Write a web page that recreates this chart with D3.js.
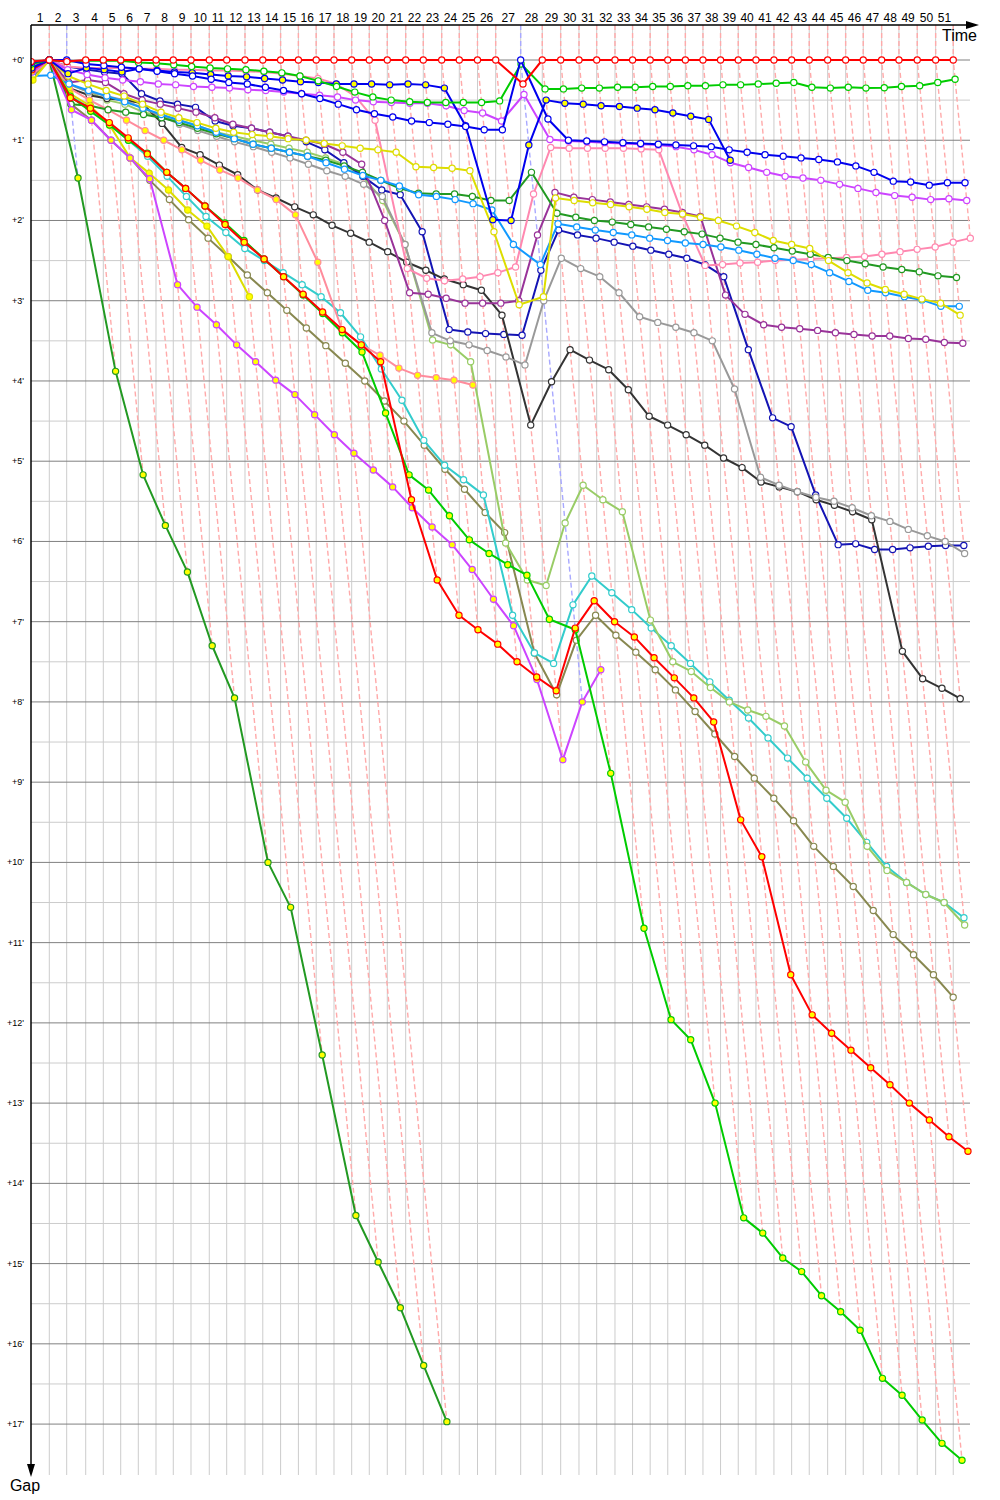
<!DOCTYPE html>
<html><head><meta charset="utf-8">
<script src="https://cdn.jsdelivr.net/npm/d3@7"></script>
<style>body{margin:0;background:#fff;} svg{display:block;font-family:Tahoma,"Liberation Sans",sans-serif;}</style>
</head><body><svg id="c" width="1000" height="1500"></svg>
<script>
// leader lap times (seconds), laps 1..51
const leaderLapTimes = [142.6,135.6,148.1,137.1,135.6,137.1,137.9,134.8,137.9,142.6,135.6,142.6,138.7,138.7,138.7,138.7,138.7,137.9,137.1,140.3,143.4,137.1,143.4,137.1,141.8,141.8,194.8,168.3,143.4,142.6,137.9,142.6,137.1,137.1,137.1,137.1,137.1,137.1,137.9,137.9,140.3,137.9,137.1,143.4,140.3,137.1,143.4,134.8,142.6,143.4,137.1];
const lapLabels = d3.range(1, 52);
const gapTicks = d3.range(0, 18);
const leaderByLap = {2: "blue", 27: "blue"}; // laps not led by red
// gaps to leader (minutes), index = lap number (0 = start)
const redW = [0.02,0,0.02,0,0,0,0,0,0,0,0,0,0,0,0,0,0,0,0,0,0,0,0,0,0,0,0,0.3,0,0,0,0,0,0,0,0,0,0,0,0,0,0,0,0,0,0,0,0,0,0,0,0];
const redY = [0.12,0,0.47,0.6,0.78,0.97,1.17,1.4,1.6,1.82,2.05,2.27,2.48,2.7,2.92,3.14,3.36,3.55,3.76,5.48,6.48,6.92,7.1,7.28,7.5,7.69,7.86,7.08,6.74,7.0,7.19,7.45,7.7,7.95,8.25,9.47,9.93,11.4,11.9,12.13,12.34,12.56,12.77,13.0,13.21,13.42,13.6];
const greenW = [0.05,0,0.02,0.01,0.01,0.01,0.03,0.04,0.06,0.08,0.1,0.11,0.12,0.14,0.16,0.2,0.26,0.33,0.4,0.46,0.5,0.52,0.53,0.53,0.53,0.53,0.51,0.05,0.36,0.36,0.35,0.35,0.34,0.34,0.33,0.33,0.32,0.32,0.31,0.31,0.3,0.29,0.28,0.34,0.35,0.34,0.35,0.345,0.33,0.32,0.28,0.24];
const greenY = [0.1,0,0.45,0.64,0.81,1.0,1.16,1.4,1.6,1.82,2.03,2.25,2.48,2.7,2.93,3.16,3.4,3.64,4.4,5.17,5.36,5.68,5.98,6.15,6.29,6.42,6.97,7.1,8.89,10.82,11.96,12.21,13.0,14.43,14.62,14.93,15.1,15.4,15.6,15.83,16.43,16.64,16.95,17.24,17.45];
const blueW = [0.03,0,0,0.05,0.07,0.09,0.11,0.14,0.17,0.2,0.24,0.28,0.3,0.34,0.38,0.42,0.48,0.55,0.62,0.67,0.71,0.76,0.78,0.8,0.83,0.87,0.87,0,0.735,1.0,1.01,1.02,1.03,1.04,1.05,1.06,1.07,1.08,1.12,1.15,1.18,1.2,1.22,1.24,1.27,1.32,1.4,1.51,1.52,1.56,1.53,1.53];
const blueY = [0.1,0,0.17,0.1,0.12,0.15,0.11,0.13,0.15,0.16,0.18,0.2,0.21,0.23,0.25,0.27,0.28,0.3,0.3,0.3,0.31,0.3,0.31,0.35,0.82,1.99,2.0,1.06,0.5,0.54,0.55,0.57,0.58,0.6,0.62,0.66,0.7,0.74,1.25];
const magW = [0.08,0,0.12,0.18,0.22,0.25,0.27,0.3,0.31,0.33,0.34,0.35,0.37,0.38,0.4,0.42,0.44,0.46,0.5,0.52,0.53,0.54,0.54,0.57,0.63,0.66,0.76,0.43,0.99,1.01,1.02,1.03,1.04,1.05,1.06,1.08,1.12,1.18,1.28,1.34,1.4,1.45,1.47,1.5,1.55,1.6,1.65,1.69,1.71,1.74,1.73,1.75];
const magY = [0.15,0,0.62,0.75,1.0,1.22,1.48,2.8,3.08,3.3,3.55,3.76,3.99,4.17,4.42,4.67,4.9,5.11,5.32,5.58,5.82,6.04,6.35,6.72,7.05,7.72,8.72,8.0,7.6];
const dkGreenY = [0.2,0,1.47,3.88,5.17,5.8,6.38,7.3,7.95,10.0,10.56,12.4,14.4,14.98,15.55,16.27,16.97];
const yellowY = [0.25,0,0.42,0.57,0.81,1.22,1.41,1.62,1.87,2.07,2.45,2.95];
const yellowW = [0.1,0,0.2,0.3,0.38,0.45,0.55,0.65,0.72,0.78,0.85,0.9,0.93,0.95,0.98,1.0,1.04,1.07,1.1,1.12,1.15,1.33,1.34,1.35,1.38,2.14,3.05,2.95,1.72,1.75,1.78,1.8,1.83,1.86,1.9,1.92,1.96,2.0,2.07,2.15,2.25,2.3,2.35,2.5,2.65,2.78,2.86,2.92,2.98,3.03,3.18];
const azureW = [0.2,0.19,0.3,0.38,0.45,0.52,0.6,0.68,0.75,0.82,0.9,0.98,1.05,1.1,1.15,1.2,1.28,1.36,1.44,1.5,1.57,1.68,1.7,1.74,1.79,1.87,2.3,2.55,2.04,2.08,2.12,2.15,2.18,2.22,2.25,2.28,2.3,2.33,2.37,2.42,2.47,2.5,2.55,2.65,2.76,2.87,2.9,2.95,2.99,3.07,3.07];
const dkGreenW = [0.12,0,0.55,0.57,0.62,0.65,0.68,0.72,0.78,0.85,0.92,0.98,1.05,1.1,1.15,1.2,1.25,1.32,1.4,1.5,1.6,1.66,1.67,1.67,1.7,1.75,1.75,1.4,1.91,1.96,2.0,2.02,2.05,2.08,2.11,2.14,2.17,2.22,2.27,2.3,2.34,2.38,2.42,2.46,2.5,2.54,2.58,2.61,2.64,2.69,2.71];
const pinkW = [0.05,0,0.08,0.1,0.1,0.1,0.11,0.11,0.12,0.12,0.13,0.13,0.14,0.15,0.17,0.2,0.23,0.3,0.45,0.75,2.6,2.72,2.75,2.73,2.7,2.65,2.58,1.67,1.09,1.1,1.1,1.1,1.1,1.11,1.12,1.93,2.56,2.55,2.53,2.52,2.5,2.49,2.48,2.47,2.46,2.45,2.42,2.39,2.36,2.33,2.27,2.22];
const pinkY = [0.18,0,0.35,0.5,0.62,0.75,0.88,1.0,1.12,1.25,1.37,1.47,1.62,1.74,1.93,2.52,3.36,3.55,3.68,3.84,3.93,3.96,3.99,4.05];
const purpleW = [0.07,0,0.28,0.25,0.28,0.42,0.5,0.55,0.6,0.65,0.72,0.8,0.85,0.9,0.95,1.0,1.05,1.15,1.3,2.0,2.9,2.92,2.97,3.03,3.03,3.03,3.0,2.18,1.65,1.71,1.74,1.77,1.8,1.83,1.86,1.9,1.95,2.93,3.17,3.3,3.33,3.35,3.37,3.4,3.42,3.44,3.44,3.47,3.48,3.52,3.53];
const grayW = [0.1,0,0.3,0.4,0.45,0.5,0.6,0.7,0.8,0.88,0.95,1.02,1.08,1.15,1.22,1.3,1.38,1.45,1.55,1.7,2.3,3.4,3.5,3.55,3.62,3.7,3.8,3.0,2.47,2.6,2.7,2.9,3.2,3.27,3.33,3.4,3.5,4.1,5.2,5.3,5.38,5.45,5.5,5.58,5.68,5.75,5.85,5.93,6.0,6.15];
const blackW = [0.15,0,0.35,0.44,0.48,0.5,0.54,0.79,1.09,1.18,1.31,1.43,1.62,1.72,1.83,1.93,2.06,2.16,2.27,2.39,2.52,2.62,2.73,2.8,2.87,3.18,4.55,4.01,3.61,3.74,3.86,4.11,4.44,4.55,4.67,4.8,4.96,5.08,5.26,5.32,5.38,5.48,5.55,5.63,5.73,7.37,7.71,7.83,7.96];
const navyW = [0.1,0,0.08,0.12,0.15,0.17,0.42,0.51,0.55,0.59,0.76,0.82,0.85,0.9,0.95,1.02,1.12,1.28,1.45,1.62,1.68,2.14,3.36,3.39,3.41,3.42,3.43,2.62,2.12,2.18,2.22,2.27,2.32,2.37,2.42,2.47,2.55,2.7,3.61,4.46,4.57,5.42,6.04,6.03,6.1,6.1,6.08,6.06,6.05,6.05];
const lGreenW = [0.12,0,0.3,0.4,0.5,0.55,0.65,0.7,0.75,0.82,0.9,0.95,1.0,1.05,1.1,1.15,1.22,1.3,1.45,1.75,2.3,3.49,3.55,3.76,6.02,6.48,6.55,5.77,5.3,5.48,5.63,6.98,7.5,7.62,7.82,8.0,8.1,8.18,8.3,8.75,9.1,9.25,9.8,10.1,10.25,10.4,10.5,10.78];
const cyanW = [0.15,0,0.45,0.6,0.8,1.0,1.2,1.45,1.7,1.95,2.15,2.35,2.5,2.65,2.8,2.95,3.15,3.45,3.85,4.24,4.74,5.05,5.23,5.42,6.92,7.39,7.52,6.79,6.43,6.64,6.85,7.08,7.3,7.52,7.75,7.98,8.2,8.45,8.7,8.95,9.2,9.45,9.75,10.05,10.25,10.4,10.5,10.69];
const oliveW = [0.2,0,0.55,0.75,1.0,1.22,1.5,1.74,1.99,2.22,2.45,2.68,2.9,3.12,3.34,3.56,3.78,4.0,4.25,4.5,4.8,5.1,5.35,5.64,5.89,7.39,7.91,7.23,6.92,7.17,7.38,7.6,7.85,8.12,8.4,8.68,8.95,9.2,9.48,9.8,10.05,10.3,10.6,10.9,11.15,11.4,11.68];

// styling table (drawing order: first drawn at bottom)
const series = [
  {g: dkGreenY, c: "#229922", f: "#ffff00"},
  {g: oliveW, c: "#888850", f: "#fff"},
  {g: cyanW, c: "#33cccc", f: "#fff"},
  {g: lGreenW, c: "#99cc66", f: "#fff"},
  {g: navyW, c: "#1414b4", f: "#fff"},
  {g: blackW, c: "#333333", f: "#fff"},
  {g: grayW, c: "#999999", f: "#fff"},
  {g: purpleW, c: "#993399", f: "#fff"},
  {g: pinkY, c: "#ff8c9c", f: "#ffff00"},
  {g: pinkW, c: "#ff88b0", f: "#fff"},
  {g: dkGreenW, c: "#229922", f: "#fff"},
  {g: azureW, c: "#1199ff", f: "#fff"},
  {g: yellowW, c: "#dddd00", f: "#fff"},
  {g: yellowY, c: "#dddd00", f: "#ffff00"},
  {g: magY, c: "#cc44ff", f: "#ffff00"},
  {g: magW, c: "#cc44ff", f: "#fff"},
  {g: greenY, c: "#00cc00", f: "#ffff00"},
  {g: redY, c: "#ff0000", f: "#ffff00"},
  {g: blueY, c: "#0000ee", f: "#ffff00"},
  {g: greenW, c: "#00cc00", f: "#fff"},
  {g: blueW, c: "#0000ee", f: "#fff"},
  {g: redW, c: "#ff0000", f: "#fff"}
];

const svg = d3.select("#c");
const leaderTime = [0];
leaderLapTimes.forEach((t, i) => leaderTime.push(leaderTime[i] + t));
const x = d3.scaleLinear().domain([0, 7200]).range([31, 31 + 7.7 * 120]);
const y = d3.scaleLinear().domain([0, 17]).range([60, 60 + 17 * 80.24]);
const yTop = 25, yBottom = 1475, xRight = 970, xLeft = 31;
const px = (lap, gap) => x(leaderTime[lap] + gap * 60);

// horizontal grid
const half = d3.range(0.5, 17, 1);
svg.append("g").selectAll("line").data(half).join("line")
  .attr("x1", xLeft).attr("x2", xRight).attr("y1", d => y(d)).attr("y2", d => y(d))
  .attr("stroke", "#cccccc").attr("stroke-width", 1);
// vertical grid
svg.append("g").selectAll("line").data(d3.range(1, 52)).join("line")
  .attr("x1", d => x(leaderTime[d])).attr("x2", d => x(leaderTime[d]))
  .attr("y1", yTop).attr("y2", yBottom)
  .attr("stroke", "#cccccc").attr("stroke-width", 1);
svg.append("g").selectAll("line").data(gapTicks).join("line")
  .attr("x1", xLeft).attr("x2", xRight).attr("y1", d => y(d)).attr("y2", d => y(d))
  .attr("stroke", "#808080").attr("stroke-width", 1);

// lap lines (dashed)
const lapLines = d3.range(1, 52).map(k => {
  let gmax = 0;
  series.forEach(s => { if (s.g.length > k) gmax = Math.max(gmax, s.g[k]); });
  return {k, gmax};
});
svg.append("g").selectAll("path").data(lapLines).join("path")
  .attr("d", d => `M${x(leaderTime[d.k])},${yTop}L${x(leaderTime[d.k])},${y(0)}L${px(d.k, d.gmax)},${y(d.gmax)}`)
  .attr("fill", "none")
  .attr("stroke", d => leaderByLap[d.k] === "blue" ? "#a8a8ff" : "#ffaaaa")
  .attr("stroke-width", 1.4).attr("stroke-dasharray", "5,3");

// series
svg.append("clipPath").attr("id", "pc").append("rect")
  .attr("x", xLeft).attr("y", 0).attr("width", 980 - xLeft).attr("height", 1500);
const plot = svg.append("g").attr("clip-path", "url(#pc)");
const line = d3.line().x(d => d[0]).y(d => d[1]);
series.forEach(s => {
  const pts = s.g.map((g, k) => [px(k, g), y(g)]);
  const grp = plot.append("g");
  grp.append("path").attr("d", line(pts)).attr("fill", "none")
    .attr("stroke", s.c).attr("stroke-width", 2).attr("stroke-linejoin", "round");
  grp.selectAll("circle").data(pts).join("circle")
    .attr("cx", d => d[0]).attr("cy", d => d[1]).attr("r", 3.1)
    .attr("fill", s.f).attr("stroke", s.c).attr("stroke-width", 1.2);
});

// axes
svg.append("line").attr("x1", xLeft).attr("x2", 968).attr("y1", yTop).attr("y2", yTop)
  .attr("stroke", "#000").attr("stroke-width", 1.5);
svg.append("path").attr("d", `M966,${yTop - 4}L979,${yTop}L966,${yTop + 4}Z`).attr("fill", "#000");
svg.append("line").attr("x1", xLeft).attr("x2", xLeft).attr("y1", yTop).attr("y2", 1466)
  .attr("stroke", "#000").attr("stroke-width", 1.5);
svg.append("path").attr("d", `M${xLeft - 4},1464L${xLeft},1477L${xLeft + 4},1464Z`).attr("fill", "#000");
svg.append("text").attr("x", 977).attr("y", 41).attr("text-anchor", "end")
  .attr("font-size", 16).text("Time");
svg.append("text").attr("x", 25).attr("y", 1491).attr("text-anchor", "middle")
  .attr("font-size", 16).text("Gap");

svg.append("g").selectAll("text").data(lapLabels).join("text")
  .attr("x", d => (x(leaderTime[d - 1]) + x(leaderTime[d])) / 2).attr("y", 22)
  .attr("text-anchor", "middle").attr("font-size", 12).text(d => d);
svg.append("g").selectAll("text").data(gapTicks).join("text")
  .attr("x", 24).attr("y", d => y(d) + 3).attr("text-anchor", "end")
  .attr("font-size", 9).text(d => "+" + d + "'");
</script></body></html>
